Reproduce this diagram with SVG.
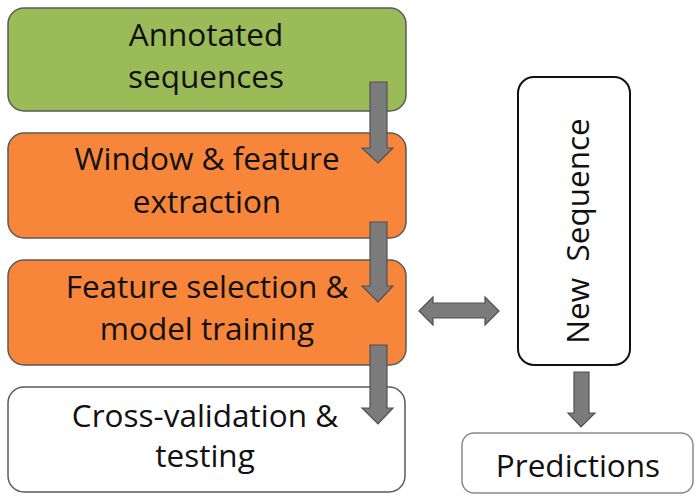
<svg xmlns="http://www.w3.org/2000/svg" width="700" height="501" viewBox="0 0 700 501">
<style>
.box{stroke:#5a5a5a;stroke-width:1.5}
.t{font-family:"Open Sans","Liberation Sans",sans-serif;font-size:31.5px;fill:#111;text-anchor:middle}
.arr{fill:#7b7b7b;stroke:#505050;stroke-width:1.2;stroke-linejoin:miter}
</style>
<rect width="700" height="501" fill="#fff"/>
<g id="annotated">
<rect class="box" x="8" y="8" width="398" height="103" rx="16" fill="#9bbb59"/>
<text class="t" x="206" y="46">Annotated</text>
<text class="t" x="206" y="88">sequences</text>
</g>
<g id="window">
<rect class="box" x="8" y="133" width="398" height="105" rx="16" fill="#f7863a"/>
<text class="t" x="207" y="170">Window &amp; feature</text>
<text class="t" x="207" y="213">extraction</text>
</g>
<g id="featsel">
<rect class="box" x="8" y="260" width="398" height="105" rx="16" fill="#f7863a"/>
<text class="t" x="207" y="298">Feature selection &amp;</text>
<text class="t" x="207" y="340">model training</text>
</g>
<g id="crossval">
<rect class="box" x="8" y="387" width="397" height="105" rx="16" fill="#fff" stroke="#8a8a8a"/>
<text class="t" x="205" y="427">Cross-validation &amp;</text>
<text class="t" x="205" y="467">testing</text>
</g>
<g id="newseq">
<rect x="518" y="77" width="112" height="288" rx="16" fill="#fff" stroke="#111" stroke-width="2"/>
<text class="t" transform="translate(589,231) rotate(-90)" x="0" y="0" xml:space="preserve">New  Sequence</text>
</g>
<g id="predictions">
<rect x="462" y="433" width="231" height="60" rx="12" fill="#fff" stroke="#8a8a8a" stroke-width="1.5"/>
<text class="t" x="578" y="477">Predictions</text>
</g>
<g id="connectors">
<path class="arr" d="M370,82 H387 V148 H393 L378,163 L362,148 H370 Z"/>
<path class="arr" d="M370,222 H387 V286 H393 L378,302 L362,286 H370 Z"/>
<path class="arr" d="M370,345 H387 V408 H393 L378,424 L362,408 H370 Z"/>
<path class="arr" d="M574,372 H589 V413 H595 L581,427 L568,413 H574 Z"/>
<path class="arr" d="M419,311 L433,297 V303 H485 V297 L499,311 L485,325 V318 H433 V325 Z"/>
</g>
</svg>
